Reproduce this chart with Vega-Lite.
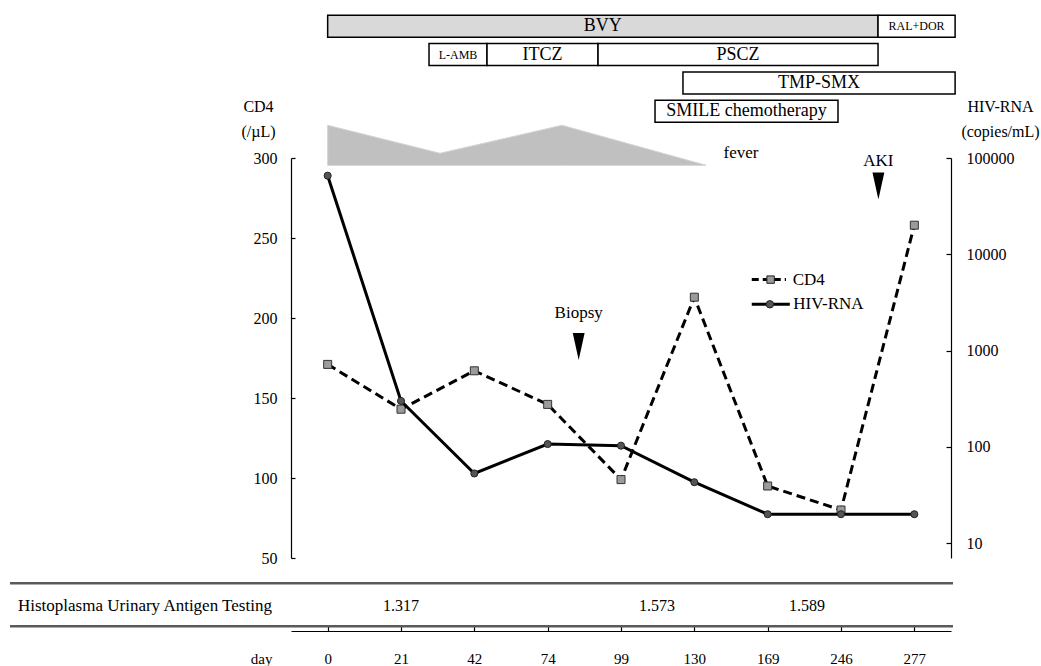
{
  "$schema": "https://vega.github.io/schema/vega-lite/v6.json",
  "width": 660,
  "height": 400,
  "autosize": {"type": "none"},
  "padding": {"left": 291, "top": 158, "right": 90, "bottom": 108},
  "config": {
    "view": {"stroke": null},
    "font": "Liberation Serif",
    "axis": {"labelFont": "Liberation Serif", "titleFont": "Liberation Serif", "labelColor": "black", "titleColor": "black", "domainColor": "black", "tickColor": "black", "grid": false, "titleFontWeight": "normal"},
    "text": {"font": "Liberation Serif", "color": "black"}
  },
  "datasets": {
    "labs": [
      {"day": 0, "cd4": 171, "hiv": 65500},
      {"day": 21, "cd4": 143, "hiv": 300},
      {"day": 42, "cd4": 167, "hiv": 53},
      {"day": 74, "cd4": 146, "hiv": 107},
      {"day": 99, "cd4": 99, "hiv": 103},
      {"day": 130, "cd4": 213, "hiv": 43},
      {"day": 169, "cd4": 95, "hiv": 20},
      {"day": 246, "cd4": 80, "hiv": 20},
      {"day": 277, "cd4": 258, "hiv": 20}
    ],
    "treatments": [
      {"drug": "BVY", "start": 0, "end": 7.505, "lane": 1},
      {"drug": "RAL+DOR", "start": 7.505, "end": 8.556, "lane": 1},
      {"drug": "L-AMB", "start": 1.382, "end": 2.173, "lane": 2},
      {"drug": "ITCZ", "start": 2.173, "end": 3.687, "lane": 2},
      {"drug": "PSCZ", "start": 3.687, "end": 7.505, "lane": 2},
      {"drug": "TMP-SMX", "start": 4.845, "end": 8.556, "lane": 3},
      {"drug": "SMILE chemotherapy", "start": 4.464, "end": 6.959, "lane": 4}
    ],
    "fever": [
      {"pos": 0, "level": 1},
      {"pos": 1.532, "level": 0.3},
      {"pos": 3.195, "level": 1},
      {"pos": 5.16, "level": 0}
    ],
    "events": [
      {"label": "Biopsy", "pos": 3.423, "lane": 12.318, "textLane": 11.117},
      {"label": "AKI", "pos": 7.51, "lane": 6.647, "textLane": 5.76}
    ],
    "legend": [
      {"series": "CD4", "from": 5.783, "to": 6.25, "mid": 6.04, "lane": 9.951, "textPos": 6.342},
      {"series": "HIV-RNA", "from": 5.783, "to": 6.302, "mid": 6.03, "lane": 10.823, "textPos": 6.35}
    ],
    "tableLines": [
      {"from": -4.332, "to": 8.527, "lane": 20.682},
      {"from": -4.332, "to": 8.527, "lane": 22.201}
    ],
    "antigen": [
      {"label": "1.317", "pos": 1.0, "lane": 21.495},
      {"label": "1.573", "pos": 4.49, "lane": 21.495},
      {"label": "1.589", "pos": 6.536, "lane": 21.495}
    ]
  },
  "layer": [
    {
      "data": {"name": "labs"},
      "encoding": {
        "x": {
          "field": "day", "type": "ordinal",
          "scale": {"type": "point", "padding": 0.5},
          "axis": {
            "orient": "bottom", "offset": 73, "labelAngle": 0, "labelFontSize": 15,
            "tickSize": -6, "tickWidth": 1.2, "domainWidth": 1.2, "labelPadding": 33, "labelBaseline": "middle",
            "title": "day", "titleFontSize": 15, "titleAlign": "right", "titleBaseline": "middle",
            "titleX": -19, "titleY": 27, "titleAngle": 0
          }
        },
        "y": {
          "field": "cd4", "type": "quantitative",
          "scale": {"domain": [50, 300], "nice": false, "zero": false},
          "axis": {
            "orient": "left", "values": [50, 100, 150, 200, 250, 300], "labelFontSize": 16,
            "tickSize": -4, "tickWidth": 1.2, "domainWidth": 1.2, "labelPadding": 18,
            "title": ["CD4", "(/µL)"], "titleAngle": 0, "titleAlign": "center", "titleBaseline": "alphabetic",
            "titleX": -33, "titleY": -47, "titleFontSize": 16, "titleLineHeight": 25
          }
        }
      },
      "layer": [
        {"mark": {"type": "line", "color": "black", "strokeWidth": 3, "strokeDash": [9, 5]}},
        {"mark": {"type": "point", "shape": "square", "filled": true, "fill": "#9b9b9b", "stroke": "#333333", "strokeWidth": 1, "size": 64, "opacity": 1}}
      ]
    },
    {
      "data": {"name": "fever"},
      "layer": [
        {
          "mark": {"type": "area", "color": "#c0c0c0", "opacity": 1, "stroke": "#d3d3d3", "strokeWidth": 1},
          "encoding": {
            "x": {"field": "pos", "type": "quantitative", "scale": {"domain": [-0.5, 8.5], "nice": false, "zero": false}, "axis": null},
            "y": {"field": "level", "type": "quantitative", "scale": {"domain": [-9.8175, 0.1825], "nice": false, "zero": false}, "axis": null},
            "y2": {"datum": 0}
          }
        },
        {
          "data": {"values": [{"label": "fever", "pos": 5.637, "level": 0.3}]},
          "mark": {"type": "text", "fontSize": 17, "align": "center", "baseline": "middle"},
          "encoding": {
            "x": {"field": "pos", "type": "quantitative"},
            "y": {"field": "level", "type": "quantitative"},
            "text": {"field": "label"}
          }
        }
      ]
    },
    {
      "data": {"name": "labs"},
      "encoding": {
        "x": {"field": "day", "type": "ordinal", "scale": {"type": "point", "padding": 0.5}, "axis": null},
        "y": {
          "field": "hiv", "type": "quantitative",
          "scale": {"type": "log", "domain": [7.02, 100000], "nice": false},
          "axis": {
            "orient": "right", "values": [10, 100, 1000, 10000, 100000], "format": "d", "labelFontSize": 16,
            "tickSize": -5, "tickWidth": 1.2, "domainWidth": 1.2, "labelPadding": 20,
            "title": ["HIV-RNA", "(copies/mL)"], "titleAngle": 0, "titleAlign": "center", "titleBaseline": "alphabetic",
            "titleX": 49, "titleY": -47, "titleFontSize": 16, "titleLineHeight": 25
          }
        }
      },
      "layer": [
        {"mark": {"type": "line", "color": "black", "strokeWidth": 3}},
        {"mark": {"type": "point", "shape": "circle", "filled": true, "fill": "#555555", "stroke": "#222222", "strokeWidth": 1, "size": 50, "opacity": 1}}
      ]
    },
    {
      "layer": [
        {
          "data": {"name": "treatments"},
          "mark": {"type": "rect", "height": 22, "stroke": "black", "strokeWidth": 1.5},
          "encoding": {
            "x": {"field": "start", "type": "quantitative", "scale": {"domain": [-0.5, 8.5], "nice": false, "zero": false}, "axis": null},
            "x2": {"field": "end"},
            "y": {"field": "lane", "type": "quantitative", "scale": {"domain": [5.654, 19.788], "nice": false, "zero": false, "reverse": true}, "axis": null},
            "fill": {"condition": {"test": "datum.drug === 'BVY'", "value": "#d9d9d9"}, "value": "white"}
          }
        },
        {
          "data": {"name": "treatments"},
          "transform": [{"calculate": "(datum.start + datum.end) / 2", "as": "mid"}],
          "mark": {"type": "text", "align": "center", "baseline": "middle"},
          "encoding": {
            "x": {"field": "mid", "type": "quantitative"},
            "y": {"field": "lane", "type": "quantitative"},
            "text": {"field": "drug"},
            "size": {"condition": {"test": "datum.drug === 'RAL+DOR' || datum.drug === 'L-AMB'", "value": 12}, "value": 18}
          }
        },
        {
          "data": {"name": "events"},
          "mark": {"type": "point", "shape": "M-0.44,-1L0.44,-1L0,1Z", "filled": true, "color": "black", "size": 729, "opacity": 1},
          "encoding": {
            "x": {"field": "pos", "type": "quantitative"},
            "y": {"field": "lane", "type": "quantitative"}
          }
        },
        {
          "data": {"name": "events"},
          "mark": {"type": "text", "fontSize": 17, "align": "center", "baseline": "middle"},
          "encoding": {
            "x": {"field": "pos", "type": "quantitative"},
            "y": {"field": "textLane", "type": "quantitative"},
            "text": {"field": "label"}
          }
        },
        {
          "data": {"name": "legend"},
          "mark": {"type": "rule", "color": "black", "strokeWidth": 3},
          "encoding": {
            "x": {"field": "from", "type": "quantitative"},
            "x2": {"field": "to"},
            "y": {"field": "lane", "type": "quantitative"},
            "strokeDash": {"field": "series", "type": "nominal", "scale": {"domain": ["CD4", "HIV-RNA"], "range": [[7, 4], [1, 0]]}, "legend": null}
          }
        },
        {
          "data": {"name": "legend"},
          "mark": {"type": "point", "filled": true, "stroke": "#222222", "strokeWidth": 1, "opacity": 1, "size": 55},
          "encoding": {
            "x": {"field": "mid", "type": "quantitative"},
            "y": {"field": "lane", "type": "quantitative"},
            "shape": {"field": "series", "type": "nominal", "scale": {"domain": ["CD4", "HIV-RNA"], "range": ["square", "circle"]}, "legend": null},
            "fill": {"field": "series", "type": "nominal", "scale": {"domain": ["CD4", "HIV-RNA"], "range": ["#9b9b9b", "#555555"]}, "legend": null}
          }
        },
        {
          "data": {"name": "legend"},
          "mark": {"type": "text", "fontSize": 17, "align": "left", "baseline": "middle"},
          "encoding": {
            "x": {"field": "textPos", "type": "quantitative"},
            "y": {"field": "lane", "type": "quantitative"},
            "text": {"field": "series"}
          }
        },
        {
          "data": {"name": "tableLines"},
          "mark": {"type": "rule", "color": "#5a5a5a", "strokeWidth": 2.5},
          "encoding": {
            "x": {"field": "from", "type": "quantitative"},
            "x2": {"field": "to"},
            "y": {"field": "lane", "type": "quantitative"}
          }
        },
        {
          "data": {"values": [{"label": "Histoplasma Urinary Antigen Testing", "pos": -4.223, "lane": 21.495}]},
          "mark": {"type": "text", "fontSize": 17, "align": "left", "baseline": "middle"},
          "encoding": {
            "x": {"field": "pos", "type": "quantitative"},
            "y": {"field": "lane", "type": "quantitative"},
            "text": {"field": "label"}
          }
        },
        {
          "data": {"name": "antigen"},
          "mark": {"type": "text", "fontSize": 16, "align": "center", "baseline": "middle"},
          "encoding": {
            "x": {"field": "pos", "type": "quantitative"},
            "y": {"field": "lane", "type": "quantitative"},
            "text": {"field": "label"}
          }
        }
      ]
    }
  ],
  "resolve": {"scale": {"x": "independent", "y": "independent"}}
}
